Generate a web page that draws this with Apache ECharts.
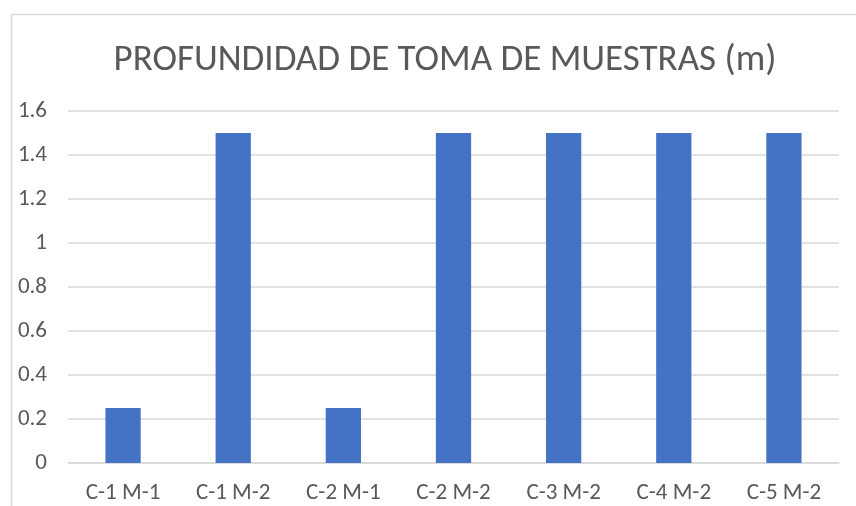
<!DOCTYPE html>
<html>
<head>
<meta charset="utf-8">
<script src="https://cdn.jsdelivr.net/npm/echarts@6/dist/echarts.min.js"></script>
<style>
  html, body { margin: 0; padding: 0; background: #fff; }
  #chart { width: 856px; height: 506px; }
</style>
</head>
<body>
<div id="chart"></div>
<script>
// datos
const categorias = ["C-1 M-1", "C-1 M-2", "C-2 M-1", "C-2 M-2", "C-3 M-2", "C-4 M-2", "C-5 M-2"];
const profundidad = [0.25, 1.5, 0.25, 1.5, 1.5, 1.5, 1.5];

const fuente = 'Carlito, "Liberation Sans", sans-serif';
const gris = "#595959";

const chart = echarts.init(document.getElementById("chart"));

chart.setOption({
  animation: false,
  title: {
    text: "PROFUNDIDAD DE TOMA DE MUESTRAS (m)",
    left: 440,
    textAlign: "center",
    top: 37,
    textStyle: { fontFamily: fuente, fontSize: 37, fontWeight: "normal", color: gris }
  },
  graphic: [{
    type: "rect",
    shape: { x: 11.5, y: 14.5, width: 900, height: 600 },
    style: { fill: "none", stroke: "#d9d9d9", lineWidth: 1.5 },
    silent: true
  }],
  grid: { left: 68, right: 17, top: 111, bottom: 43 },
  xAxis: {
    type: "category",
    data: categorias,
    axisLine: { lineStyle: { color: "#d9d9d9", width: 1.5 } },
    axisTick: { show: false },
    axisLabel: { fontFamily: fuente, fontSize: 23, color: gris, margin: 19 }
  },
  yAxis: {
    type: "value",
    min: 0,
    max: 1.6,
    interval: 0.2,
    axisLine: { show: false },
    axisTick: { show: false },
    splitLine: { lineStyle: { color: "#d9d9d9", width: 1.5 } },
    axisLabel: {
      fontFamily: fuente, fontSize: 23, color: gris, margin: 21,
      formatter: v => String(Math.round(v * 10) / 10)
    }
  },
  series: [{
    type: "bar",
    data: profundidad,
    barWidth: "32%",
    itemStyle: { color: "#4472c4" }
  }]
});
</script>
</body>
</html>
